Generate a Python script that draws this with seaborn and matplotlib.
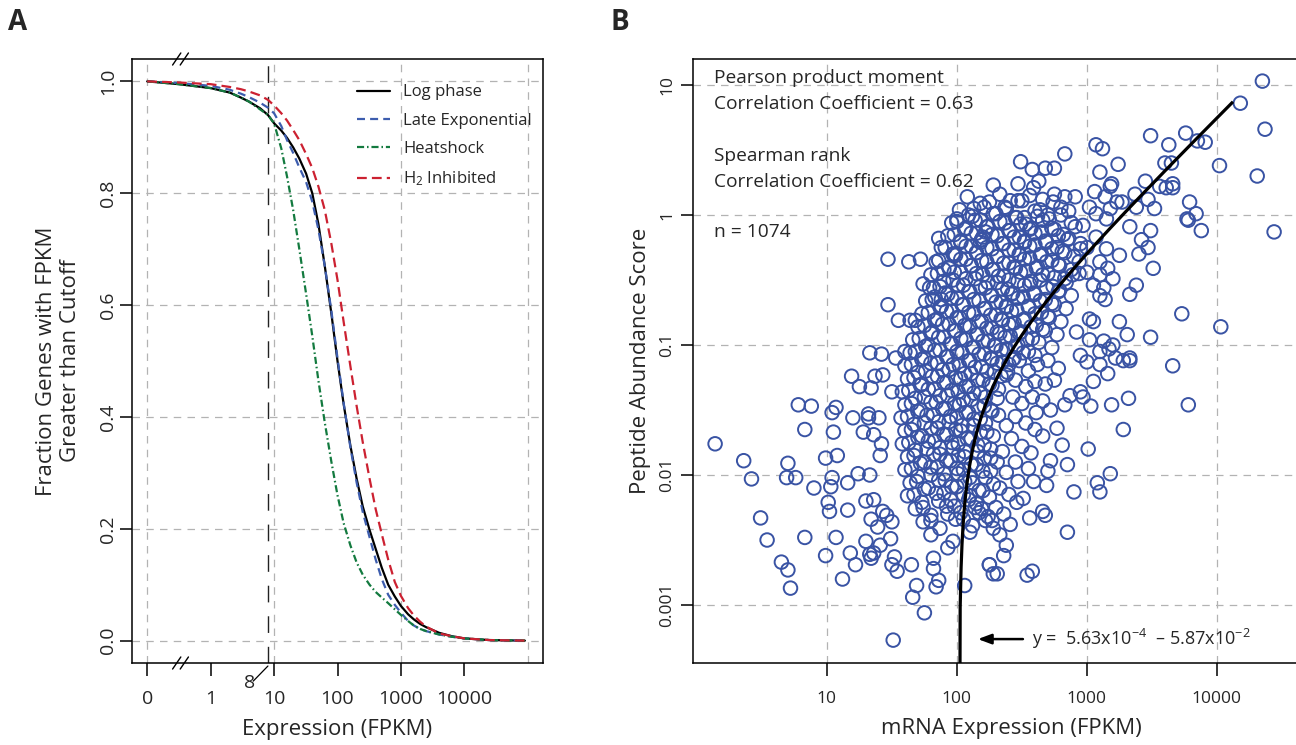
import numpy as np
import seaborn as sns
import matplotlib.pyplot as plt
from matplotlib.transforms import blended_transform_factory

sns.set_style('white')
plt.rcParams['font.family'] = ['Open Sans', 'DejaVu Sans']
plt.rcParams['mathtext.fontset'] = 'custom'
plt.rcParams['mathtext.rm'] = 'Open Sans'
plt.rcParams['mathtext.it'] = 'Open Sans:italic'
plt.rcParams['axes.unicode_minus'] = False

# %% DATA - panel A (fraction of genes above an FPKM cutoff)
fpkm_cutoff = [0, 0.5, 1, 2, 3, 4, 6, 8, 10, 13, 16, 20, 25, 32, 40, 50, 63, 80, 100,
               125, 160, 200, 250, 320, 400, 500, 630, 800, 1000, 1300, 1600, 2000,
               2500, 4000, 6300, 10000, 25000, 90000]
frac_log_phase = [1.0, 0.995, 0.988, 0.98, 0.971, 0.964, 0.952, 0.94, 0.925, 0.912, 0.899,
                  0.882, 0.862, 0.835, 0.80, 0.745, 0.67, 0.585, 0.50, 0.423, 0.348, 0.29,
                  0.24, 0.198, 0.164, 0.13, 0.10, 0.079, 0.062, 0.047, 0.038, 0.03, 0.024,
                  0.014, 0.008, 0.004, 0.001, 0.0]
frac_late_exp = [1.0, 0.997, 0.992, 0.985, 0.978, 0.972, 0.962, 0.953, 0.943, 0.92, 0.895,
                 0.872, 0.846, 0.82, 0.785, 0.735, 0.67, 0.59, 0.505, 0.425, 0.345, 0.283,
                 0.23, 0.185, 0.145, 0.11, 0.082, 0.064, 0.05, 0.035, 0.027, 0.021, 0.017,
                 0.011, 0.007, 0.004, 0.001, 0.0]
frac_heatshock = [1.0, 0.995, 0.988, 0.98, 0.971, 0.964, 0.95, 0.94, 0.925, 0.88, 0.83,
                  0.77, 0.70, 0.62, 0.545, 0.465, 0.39, 0.32, 0.26, 0.21, 0.17, 0.14,
                  0.118, 0.10, 0.087, 0.077, 0.067, 0.056, 0.046, 0.035, 0.027, 0.021,
                  0.017, 0.011, 0.007, 0.004, 0.001, 0.0]
frac_h2_inhib = [1.0, 0.998, 0.995, 0.99, 0.986, 0.982, 0.975, 0.967, 0.957, 0.943, 0.93,
                 0.913, 0.895, 0.87, 0.845, 0.812, 0.77, 0.71, 0.645, 0.57, 0.49, 0.42,
                 0.355, 0.29, 0.235, 0.19, 0.145, 0.105, 0.08, 0.058, 0.045, 0.034, 0.025,
                 0.013, 0.008, 0.004, 0.001, 0.0]
fpkm_cutoff_used = 8
a_xticks = [0, 1, 10, 100, 1000, 10000]
a_xticklabels = ['0', '1', '10', '100', '1000', '10000']
a_xgrid = [0, 10, 1000, 100000]
a_yticks = [0.0, 0.2, 0.4, 0.6, 0.8, 1.0]

# %% DATA - panel B (log10 mRNA FPKM, log10 peptide abundance score)
genes_log10 = np.array([
    # sparse / outlying genes
    (4.35, 1.03), (4.18, 0.86), (4.37, 0.66), (4.31, 0.30), (4.44, -0.13), (4.02, 0.38),
    (3.91, 0.56), (3.85, 0.57), (3.76, 0.63), (3.49, 0.61), (3.63, 0.54), (3.65, 0.40),
    (3.60, 0.40), (3.79, 0.10), (3.84, 0.01), (3.77, -0.03), (3.78, -0.04), (3.88, -0.12),
    (3.73, -0.76), (4.03, -0.86), (3.49, -0.94), (3.51, -0.41), (3.49, -0.12), (3.42, -0.19),
    (3.47, -0.25), (3.40, -0.30), (3.38, -0.54), (3.33, -0.61), (3.25, -0.82), (3.31, -0.92),
    (3.33, -0.09), (3.52, 0.05), (3.47, 0.12), (3.37, 0.16), (3.45, 0.26), (3.56, 0.22),
    (3.61, 0.21), (3.66, 0.24), (3.66, 0.21), (3.24, 0.39), (3.10, 0.33), (3.19, 0.24),
    (3.18, 0.22), (3.07, 0.54), (3.12, 0.51), (2.83, 0.47), (2.75, 0.36), (2.68, 0.36),
    (2.58, 0.35), (2.49, 0.41), (2.63, 0.26), (2.59, 0.21), (2.47, 0.24), (2.28, 0.23),
    (2.47, 0.11), (2.52, -0.02), (2.66, 0.12), (2.75, 0.16), (2.83, 0.14), (2.91, 0.14),
    (2.74, 0.10), (2.80, 0.06), (2.86, 0.03), (3.06, 0.18), (3.14, 0.14), (3.23, 0.10),
    (3.18, 0.05), (3.02, 0.06), (3.07, 0.01), (3.15, -0.03), (3.27, 0.10), (3.38, 0.06),
    (3.07, -0.17), (3.15, -0.26), (3.25, -0.31), (3.10, -0.36), (3.16, -0.41), (3.10, -0.46),
    (3.20, -0.49), (3.13, -0.56), (3.10, -0.62), (3.14, -0.65), (3.05, -0.54), (3.00, -0.44),
    (3.02, -0.80), (3.05, -0.82), (2.92, -0.90), (3.02, -0.96), (3.13, -0.97), (3.20, -1.00),
    (3.10, -1.05), (3.17, -1.03), (3.33, -1.10), (2.95, -1.08),
    (3.66, -1.16), (3.78, -1.46), (3.32, -1.41), (3.19, -1.46), (3.28, -1.65), (3.03, -1.47),
    (3.01, -1.80), (3.16, -1.22), (3.05, -1.28), (3.10, -1.15), (3.00, -1.13), (3.28, -1.12),
    (3.33, -1.12), (3.22, -1.10), (3.18, -1.99), (3.08, -2.06), (3.10, -2.13), (2.90, -2.13),
    (2.85, -2.44), (2.85, -1.92), (2.81, -1.77), (2.77, -1.64), (2.83, -1.46), (2.87, -1.39),
    (2.95, -1.36), (2.97, -1.40), (2.66, -2.28), (2.68, -2.31), (2.56, -2.33), (2.54, -2.77),
    (2.58, -2.74), (2.31, -2.76), (2.36, -2.62), (2.38, -2.54), (2.25, -2.69), (2.61, -1.52),
    (2.69, -2.08), (2.59, -2.05), (2.51, -2.18), (2.46, -2.21), (2.41, -2.38), (2.33, -2.46),
    (2.28, -2.41), (2.72, -1.89), (2.70, -1.97),
    (2.40, -1.15), (2.48, -1.12), (2.55, -1.20), (2.62, -1.15), (2.70, -1.12), (2.78, -1.18),
    (2.45, -1.27), (2.53, -1.32), (2.60, -1.28), (2.68, -1.30), (2.75, -1.27), (2.43, -1.40),
    (2.50, -1.45), (2.58, -1.40), (2.66, -1.43), (2.72, -1.50), (2.45, -1.55), (2.53, -1.60),
    (2.38, -1.62), (2.60, -1.65), (2.66, -1.70), (2.42, -1.72), (2.50, -1.78), (2.57, -1.83),
    (2.35, -1.82), (2.45, -1.90), (2.55, -1.95), (2.38, -1.98), (2.47, -2.05), (2.33, -2.10),
    (2.40, -2.15), (2.30, -2.25), (2.36, -2.30), (2.27, -2.35),
    (0.14, -1.76), (0.36, -1.89), (0.42, -2.03), (0.49, -2.33), (0.54, -2.50), (0.65, -2.67),
    (0.70, -2.73), (0.72, -2.87), (0.83, -2.48), (0.90, -2.10), (0.70, -1.91), (0.69, -2.02),
    (0.76, -2.02), (0.78, -1.46), (0.88, -1.47), (0.83, -1.65), (0.99, -1.87), (1.08, -1.85),
    (1.05, -1.67), (1.04, -1.52), (1.07, -1.48), (1.03, -2.09), (1.04, -2.02), (1.01, -2.21),
    (1.02, -2.28), (1.16, -2.27), (1.16, -2.06), (0.99, -2.62), (1.07, -2.48), (1.12, -2.80),
    (1.18, -2.60), (1.22, -2.69), (1.33, -2.61), (1.36, -2.60), (1.34, -2.64), (1.30, -2.51),
    (1.41, -2.54), (1.49, -2.49), (1.52, -2.63), (1.50, -2.69), (1.54, -2.74), (1.65, -2.69),
    (1.69, -2.85), (1.66, -2.94), (1.75, -3.06), (1.51, -3.27), (1.84, -2.86), (1.86, -2.81),
    (1.82, -2.72), (1.82, -2.64), (1.93, -2.56), (2.06, -2.85), (2.25, -2.69), (2.28, -2.76),
    (1.19, -1.24), (1.25, -1.32), (1.34, -1.33), (1.37, -1.24), (1.43, -1.23), (1.50, -1.36),
    (1.20, -1.56), (1.32, -1.53), (1.32, -1.56), (1.40, -1.56), (1.28, -1.67), (1.36, -1.69),
    (1.42, -1.76), (1.41, -1.85), (1.24, -1.99), (1.33, -2.00), (1.30, -2.20), (1.36, -2.19),
    (1.34, -2.34), (1.39, -2.40), (1.43, -2.28), (1.50, -2.36), (1.46, -2.31),
    (2.00, -0.03), (1.86, -0.18), (1.97, -0.30), (1.47, -0.34), (1.63, -0.36), (1.72, -0.34),
    (2.22, -0.13), (2.18, -0.21), (2.20, -0.17), (1.47, -0.69), (1.55, -0.81), (1.64, -0.81),
    (1.68, -0.81), (1.74, -0.53), (1.79, -0.56), (1.90, -0.42), (1.83, -0.63), (1.88, -0.65),
    (1.33, -1.06), (1.42, -1.07), (1.53, -1.10), (1.60, -1.05),
    # dense core of the cloud
    (2.08, 0.14), (2.18, 0.09), (2.33, 0.16), (2.41, 0.11), (2.56, 0.15),
    (2.02, 0.04), (2.12, -0.01), (2.21, 0.06), (2.30, 0.01), (2.38, 0.05), (2.46, -0.02),
    (2.60, 0.03), (2.70, 0.00),
    (1.96, -0.06), (2.06, -0.11), (2.14, -0.04), (2.24, -0.09), (2.33, -0.05), (2.41, -0.12),
    (2.49, -0.07), (2.57, -0.10), (2.66, -0.04), (2.75, -0.11), (2.88, -0.06), (2.97, -0.08),
    (1.93, -0.16), (2.03, -0.21), (2.11, -0.14), (2.19, -0.19), (2.27, -0.15), (2.36, -0.22),
    (2.44, -0.17), (2.52, -0.20), (2.60, -0.14), (2.69, -0.21), (2.78, -0.16), (2.86, -0.18),
    (2.95, -0.22),
    (1.88, -0.25), (1.99, -0.31), (2.07, -0.24), (2.15, -0.29), (2.23, -0.25), (2.31, -0.32),
    (2.40, -0.27), (2.48, -0.30), (2.56, -0.24), (2.64, -0.31), (2.73, -0.26), (2.81, -0.28),
    (2.90, -0.32), (3.00, -0.25),
    (1.84, -0.36), (1.94, -0.41), (2.03, -0.34), (2.11, -0.39), (2.19, -0.35), (2.27, -0.42),
    (2.36, -0.37), (2.44, -0.40), (2.52, -0.34), (2.61, -0.41), (2.69, -0.36), (2.78, -0.38),
    (2.88, -0.42),
    (1.80, -0.46), (1.90, -0.51), (1.98, -0.44), (2.07, -0.49), (2.15, -0.45), (2.24, -0.52),
    (2.32, -0.47), (2.40, -0.50), (2.49, -0.44), (2.57, -0.51), (2.66, -0.46), (2.75, -0.48),
    (2.84, -0.52), (2.94, -0.45),
    (1.82, -0.56), (1.93, -0.61), (2.01, -0.54), (2.10, -0.59), (2.18, -0.55), (2.27, -0.62),
    (2.35, -0.57), (2.43, -0.60), (2.52, -0.54), (2.60, -0.61), (2.69, -0.56), (2.79, -0.58),
    (2.88, -0.62),
    (1.76, -0.66), (1.87, -0.71), (1.96, -0.64), (2.05, -0.69), (2.13, -0.65), (2.22, -0.72),
    (2.30, -0.67), (2.38, -0.70), (2.47, -0.64), (2.55, -0.71), (2.64, -0.66), (2.73, -0.68),
    (2.84, -0.72),
    (1.73, -0.76), (1.83, -0.81), (1.92, -0.74), (2.00, -0.79), (2.09, -0.75), (2.17, -0.82),
    (2.26, -0.77), (2.34, -0.80), (2.42, -0.74), (2.51, -0.81), (2.60, -0.76), (2.70, -0.78),
    (2.80, -0.82),
    (1.70, -0.86), (1.80, -0.91), (1.89, -0.84), (1.98, -0.89), (2.06, -0.85), (2.15, -0.92),
    (2.23, -0.87), (2.31, -0.90), (2.40, -0.84), (2.48, -0.91), (2.57, -0.86), (2.66, -0.88),
    (2.77, -0.92),
    (1.66, -0.96), (1.76, -1.01), (1.86, -0.94), (1.95, -0.99), (2.03, -0.95), (2.12, -1.02),
    (2.20, -0.97), (2.29, -1.00), (2.37, -0.94), (2.45, -1.01), (2.54, -0.96), (2.63, -0.98),
    (2.73, -1.02),
    (1.64, -1.06), (1.73, -1.11), (1.83, -1.04), (1.92, -1.09), (2.00, -1.05), (2.09, -1.12),
    (2.17, -1.07), (2.26, -1.10), (2.34, -1.04), (2.43, -1.11), (2.51, -1.06), (2.60, -1.08),
    (1.60, -1.16), (1.70, -1.21), (1.80, -1.14), (1.89, -1.19), (1.97, -1.15), (2.06, -1.22),
    (2.14, -1.17), (2.23, -1.20), (2.31, -1.14), (2.39, -1.21),
    (1.62, -1.26), (1.72, -1.31), (1.81, -1.24), (1.90, -1.29), (1.99, -1.25), (2.07, -1.32),
    (2.16, -1.27), (2.25, -1.30), (2.34, -1.24),
    (1.58, -1.36), (1.68, -1.41), (1.78, -1.34), (1.87, -1.39), (1.96, -1.35), (2.05, -1.42),
    (2.13, -1.37), (2.22, -1.40), (2.32, -1.34),
    (1.60, -1.46), (1.70, -1.51), (1.80, -1.44), (1.89, -1.49), (1.98, -1.45), (2.07, -1.52),
    (2.16, -1.47), (2.26, -1.50),
    (1.57, -1.56), (1.67, -1.61), (1.77, -1.54), (1.86, -1.59), (1.95, -1.55), (2.04, -1.62),
    (2.13, -1.57), (2.22, -1.60), (2.32, -1.54),
    (1.60, -1.66), (1.70, -1.71), (1.80, -1.64), (1.90, -1.69), (1.99, -1.65), (2.08, -1.72),
    (2.18, -1.67), (2.28, -1.70),
    (1.58, -1.76), (1.68, -1.81), (1.78, -1.74), (1.87, -1.79), (1.96, -1.75), (2.06, -1.82),
    (2.16, -1.77), (2.26, -1.80),
    (1.62, -1.86), (1.72, -1.91), (1.82, -1.84), (1.92, -1.89), (2.01, -1.85), (2.11, -1.92),
    (2.21, -1.87), (2.31, -1.90),
    (1.60, -1.96), (1.70, -2.01), (1.80, -1.94), (1.90, -1.99), (2.00, -1.95), (2.10, -2.02),
    (2.20, -1.97),
    (1.64, -2.06), (1.75, -2.11), (1.86, -2.04), (1.96, -2.09), (2.06, -2.05), (2.17, -2.12),
    (2.28, -2.07),
    (1.62, -2.16), (1.73, -2.21), (1.84, -2.14), (1.95, -2.19), (2.05, -2.15), (2.15, -2.22),
    (2.25, -2.17),
    (1.68, -2.26), (1.80, -2.31), (1.92, -2.24), (2.03, -2.29), (2.14, -2.25), (2.24, -2.32),
    (1.74, -2.36), (1.87, -2.41), (1.99, -2.34), (2.12, -2.39), (2.22, -2.35),
    (1.80, -2.46), (1.97, -2.51), (2.10, -2.44),
    # second, interleaved layer of the core
    (2.13, 0.05), (2.25, 0.10), (2.37, 0.06), (2.50, 0.11), (2.64, 0.04),
    (2.00, -0.05), (2.09, 0.00), (2.18, -0.04), (2.28, 0.01), (2.37, -0.06), (2.45, -0.02),
    (2.53, -0.07), (2.62, -0.01), (2.71, -0.03), (2.80, 0.00),
    (1.98, -0.15), (2.07, -0.10), (2.15, -0.14), (2.23, -0.09), (2.31, -0.16), (2.40, -0.12),
    (2.48, -0.17), (2.56, -0.11), (2.65, -0.13), (2.73, -0.10), (2.82, -0.15), (2.91, -0.09),
    (1.91, -0.25), (2.03, -0.20), (2.11, -0.24), (2.19, -0.19), (2.27, -0.26), (2.35, -0.22),
    (2.44, -0.27), (2.52, -0.21), (2.60, -0.23), (2.68, -0.20), (2.77, -0.25), (2.85, -0.19),
    (2.95, -0.26),
    (1.86, -0.35), (1.98, -0.30), (2.07, -0.34), (2.15, -0.29), (2.23, -0.36), (2.31, -0.32),
    (2.40, -0.37), (2.48, -0.31), (2.56, -0.33), (2.65, -0.30), (2.73, -0.35), (2.83, -0.29),
    (2.94, -0.36),
    (1.85, -0.45), (1.94, -0.40), (2.03, -0.44), (2.11, -0.39), (2.20, -0.46), (2.28, -0.42),
    (2.36, -0.47), (2.45, -0.41), (2.53, -0.43), (2.62, -0.40), (2.70, -0.45), (2.79, -0.39),
    (2.89, -0.46),
    (1.87, -0.55), (1.97, -0.50), (2.05, -0.54), (2.14, -0.49), (2.22, -0.56), (2.31, -0.52),
    (2.39, -0.57), (2.47, -0.51), (2.56, -0.53), (2.64, -0.50), (2.74, -0.55), (2.83, -0.49),
    (1.81, -0.65), (1.91, -0.60), (2.00, -0.64), (2.09, -0.59), (2.17, -0.66), (2.26, -0.62),
    (2.34, -0.67), (2.42, -0.61), (2.51, -0.63), (2.59, -0.60), (2.68, -0.65), (2.78, -0.59),
    (1.78, -0.75), (1.88, -0.70), (1.96, -0.74), (2.04, -0.69), (2.13, -0.76), (2.21, -0.72),
    (2.30, -0.77), (2.38, -0.71), (2.46, -0.73), (2.55, -0.70), (2.65, -0.75), (2.75, -0.69),
    (1.75, -0.85), (1.85, -0.80), (1.94, -0.84), (2.02, -0.79), (2.10, -0.86), (2.19, -0.82),
    (2.27, -0.87), (2.35, -0.81), (2.44, -0.83), (2.52, -0.80), (2.61, -0.85), (2.71, -0.79),
    (1.71, -0.95), (1.81, -0.90), (1.90, -0.94), (1.99, -0.89), (2.07, -0.96), (2.16, -0.92),
    (2.24, -0.97), (2.33, -0.91), (2.41, -0.93), (2.49, -0.90), (2.58, -0.95), (2.68, -0.89),
    (1.68, -1.05), (1.78, -1.00), (1.87, -1.04), (1.96, -0.99), (2.04, -1.06), (2.13, -1.02),
    (2.21, -1.07), (2.30, -1.01), (2.38, -1.03), (2.47, -1.00), (2.55, -1.05),
    (1.65, -1.15), (1.75, -1.10), (1.85, -1.14), (1.93, -1.09), (2.02, -1.16), (2.10, -1.12),
    (2.19, -1.17), (2.27, -1.11), (2.35, -1.13), (2.44, -1.10),
    (1.67, -1.25), (1.76, -1.20), (1.85, -1.24), (1.94, -1.19), (2.03, -1.26), (2.11, -1.22),
    (2.20, -1.27), (2.29, -1.21), (2.38, -1.23),
    (1.63, -1.35), (1.73, -1.30), (1.83, -1.34), (1.92, -1.29), (2.01, -1.36), (2.09, -1.32),
    (2.18, -1.37), (2.27, -1.31),
    (1.65, -1.45), (1.75, -1.40), (1.84, -1.44), (1.93, -1.39), (2.02, -1.46), (2.11, -1.42),
    (2.21, -1.47), (2.31, -1.41),
    (1.62, -1.55), (1.72, -1.50), (1.82, -1.54), (1.91, -1.49), (2.00, -1.56), (2.09, -1.52),
    (2.18, -1.57), (2.27, -1.51),
    (1.65, -1.65), (1.75, -1.60), (1.85, -1.64), (1.94, -1.59), (2.03, -1.66), (2.13, -1.62),
    (2.23, -1.67),
    (1.63, -1.75), (1.73, -1.70), (1.83, -1.74), (1.92, -1.69), (2.01, -1.76), (2.11, -1.72),
    (2.21, -1.77),
    (1.67, -1.85), (1.77, -1.80), (1.87, -1.84), (1.97, -1.79), (2.06, -1.86), (2.16, -1.82),
    (2.26, -1.87),
    (1.65, -1.95), (1.75, -1.90), (1.85, -1.94), (1.95, -1.89), (2.05, -1.96), (2.15, -1.92),
    (2.26, -1.97),
    (1.69, -2.05), (1.80, -2.00), (1.91, -2.04), (2.01, -1.99), (2.12, -2.06), (2.22, -2.02),
    (1.67, -2.15), (1.78, -2.10), (1.90, -2.14), (2.00, -2.09), (2.10, -2.16), (2.20, -2.12),
    (1.74, -2.25), (1.86, -2.20), (1.98, -2.24), (2.09, -2.19), (2.19, -2.26),
    (1.80, -2.35), (1.93, -2.30), (2.05, -2.34), (2.17, -2.29),
])
fit_slope = 5.63e-4
fit_intercept = -5.87e-2
fit_x_range = [104.27, 13300]
b_xticks = [10, 100, 1000, 10000]
b_yticks = [10, 1, 0.1, 0.01, 0.001]
b_yticklabels = ['10', '1', '0.1', '0.01', '0.001']
stats_text = ['Pearson product moment', 'Correlation Coefficient = 0.63',
              'Spearman rank', 'Correlation Coefficient = 0.62', 'n = 1074']

# %% STYLE
BLUE_PT = '#3953a4'
GRID_KW = dict(color='#b3b3b3', lw=0.9, ls=(0, (6, 5)), zorder=0)
W, H = 1296, 745

fig = plt.figure(figsize=(W / 100, H / 100), dpi=100)
axA = fig.add_axes([132 / W, 82 / H, 411 / W, 604 / H])
axB = fig.add_axes([693 / W, 82 / H, 637 / W, 604 / H])

for ax in (axA, axB):
    for sp in ax.spines.values():
        sp.set_visible(True)
        sp.set_color('black')
        sp.set_linewidth(1.1)


# %% PANEL A
def fwd(v):
    v = np.asarray(v, dtype=float)
    return np.where(v < 1, v, np.log10(np.maximum(v, 1)) + 1)


def inv(u):
    u = np.asarray(u, dtype=float)
    return np.where(u < 1, u, 10 ** (u - 1))


for x in a_xgrid:
    axA.axvline(x, **GRID_KW)
for y in a_yticks:
    axA.axhline(y, **GRID_KW)
axA.axvline(fpkm_cutoff_used, color='#222222', lw=1.0, ls=(0, (12, 10)), zorder=1)

curves = [
    (frac_log_phase, 'Log phase', 'black', '-'),
    (frac_late_exp, 'Late Exponential', '#3d5dae', (0, (3.6, 2.3))),
    (frac_heatshock, 'Heatshock', '#137a3f', (0, (3.2, 1.3, 0.7, 1.3))),
    (frac_h2_inhib, 'H$_2$ Inhibited', '#cc2131', (0, (4.4, 2.3))),
]
for vals, lab, col, ls in curves:
    sns.lineplot(x=fpkm_cutoff, y=vals, ax=axA, color=col, lw=1.6, linestyle=ls,
                 label=lab, estimator=None, sort=False, zorder=3)

axA.set_xscale('function', functions=(fwd, inv))
axA.set_xlim(-0.24, 10 ** 5.24)
axA.set_ylim(-0.04, 1.04)
axA.set_xticks(a_xticks)
axA.set_xticklabels(a_xticklabels)
axA.minorticks_off()
axA.set_yticks(a_yticks)
axA.set_yticklabels([f'{t:.1f}' for t in a_yticks], rotation=90, va='center')
axA.tick_params(axis='both', direction='out', length=9, width=1.1, labelsize=14,
                bottom=True, left=True, color='black')
axA.tick_params(axis='x', pad=10.5)
axA.tick_params(axis='y', pad=2)
axA.set_xlabel('Expression (FPKM)', fontsize=16, labelpad=8)
axA.set_ylabel('Fraction Genes with FPKM\nGreater than Cutoff', fontsize=16,
               labelpad=13, linespacing=1.15)

leg = axA.legend(frameon=False, loc='upper left', bbox_to_anchor=(0.547, 0.958),
                 borderaxespad=0, borderpad=0, fontsize=12, handlelength=2.0,
                 handletextpad=0.8, labelspacing=0.74)

trA = blended_transform_factory(axA.transData, axA.transAxes)
# axis break marks
for y0 in (0.0, 1.0):
    for x0 in (0.40, 0.52):
        axA.plot([x0, x0 + 0.13], [y0 - 0.01, y0 + 0.01], transform=trA,
                 color='black', lw=1.0, clip_on=False)
axA.text(4.07, -0.033, '8', transform=trA, ha='center', va='center', fontsize=14,
         clip_on=False)
axA.plot([4.69, fpkm_cutoff_used], [-0.030, -0.005], transform=trA, color='black',
         lw=0.9, clip_on=False)

# %% PANEL B
axB.set_xscale('log')
axB.set_yscale('log')
for x in b_xticks:
    axB.axvline(x, **GRID_KW)
for y in b_yticks:
    axB.axhline(y, **GRID_KW)

mrna = 10 ** genes_log10[:, 0]
peptide = 10 ** genes_log10[:, 1]
sns.scatterplot(x=mrna, y=peptide, ax=axB, color=BLUE_PT, facecolor='none',
                edgecolor=BLUE_PT, s=95, linewidth=1.4, zorder=3)

fit_x = np.geomspace(fit_x_range[0], fit_x_range[1], 300)
fit_y = fit_slope * fit_x + fit_intercept
axB.plot(fit_x, fit_y, color='black', lw=2.3, zorder=4, solid_capstyle='butt')

axB.set_xlim(10 ** -0.03, 10 ** 4.87)
axB.set_ylim(10 ** -3.446, 10 ** 1.2)
axB.set_xticks(b_xticks)
axB.set_xticklabels([str(t) for t in b_xticks])
axB.set_yticks(b_yticks)
axB.set_yticklabels(b_yticklabels, rotation=90, va='center')
axB.minorticks_off()
axB.tick_params(axis='both', direction='out', length=9, width=1.1, labelsize=12.5,
                bottom=True, left=True, color='black')
axB.tick_params(axis='x', pad=11)
axB.tick_params(axis='y', pad=4)
axB.set_xlabel('mRNA Expression (FPKM)', fontsize=16, labelpad=8)
axB.set_ylabel('Peptide Abundance Score', fontsize=16, labelpad=6)

for txt, yf in zip(stats_text, [0.969, 0.926, 0.840, 0.797, 0.714]):
    axB.text(0.033, yf, txt, transform=axB.transAxes, fontsize=13.8, va='center', ha='left')

axB.annotate('', xy=(145, 5.47e-4), xytext=(322, 5.47e-4),
             arrowprops=dict(arrowstyle='-|>,head_length=0.8,head_width=0.3',
                             color='black', lw=1.8, shrinkA=0, shrinkB=0))
axB.text(378, 5.47e-4, 'y =  5.63x10$^{-4}$  \u2013 5.87x10$^{-2}$', fontsize=13,
         va='center', ha='left')

# %% PANEL LETTERS
fig.text(18 / W, 1 - 22 / H, 'A', fontsize=20, fontweight='bold', ha='center', va='center')
fig.text(620 / W, 1 - 22 / H, 'B', fontsize=20, fontweight='bold', ha='center', va='center')

fig.savefig('out.png', dpi=100)
